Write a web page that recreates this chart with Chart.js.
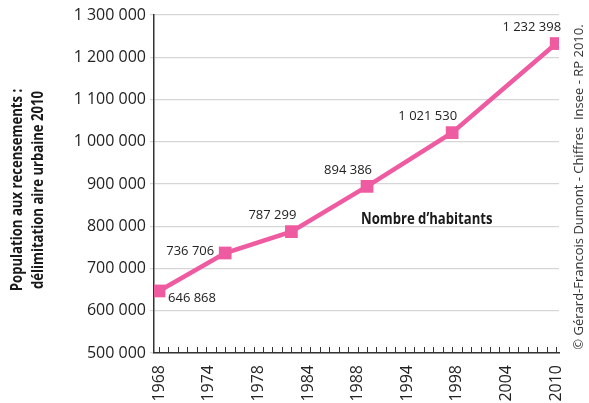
<!DOCTYPE html>
<html>
<head>
<meta charset="utf-8">
<script src="https://cdn.jsdelivr.net/npm/chart.js@4.4.0/dist/chart.umd.min.js"></script>
<style>
  body { margin: 0; background: #fff; }
</style>
</head>
<body>
<canvas id="stage" width="589" height="403"></canvas>
<script>
// recensements, aire urbaine 2010
const years = [1968, 1975, 1982, 1990, 1999, 2010];
const population = [646868, 736706, 787299, 894386, 1021530, 1232398];
const tickLabels = ['1968', '1974', '1978', '1984', '1988', '1994', '1998', '2004', '2010'];
const yTitle = ['Population aux recensements :', 'délimitation aire urbaine 2010'];
const seriesName = 'Nombre d’habitants';
const credit = '© Gérard-Francois Dumont - Chiffres  Insee - RP 2010.';

const pink = '#ef5ba1';
const textFont = "'Open Sans', sans-serif";

function fmt(v) {
  return String(v).replace(/\B(?=(\d{3})+(?!\d))/g, ' ');
}

// position des étiquettes autour des points
const labelPlace = ['below-right', 'left', 'above', 'above', 'above', 'above'];

// texte gras "étroit" (pas de police condensée installée -> on compresse)
function narrowText(ctx, text, x, y, squeeze) {
  ctx.save();
  ctx.translate(x, y);
  ctx.scale(squeeze, 1);
  ctx.fillText(text, 0, 0);
  ctx.restore();
}

const extras = {
  id: 'extras',
  afterDatasetsDraw(chart) {
    const ctx = chart.ctx;
    const meta = chart.getDatasetMeta(0);
    ctx.save();
    ctx.fillStyle = '#222';
    ctx.font = '13px ' + textFont;
    ctx.textBaseline = 'middle';
    meta.data.forEach((pt, i) => {
      const t = fmt(population[i]);
      const p = labelPlace[i];
      if (p === 'below-right') {
        ctx.textAlign = 'left';
        ctx.fillText(t, pt.x + 9, pt.y + 7);
      } else if (p === 'left') {
        ctx.textAlign = 'right';
        ctx.fillText(t, pt.x - 11, pt.y - 2);
      } else {
        ctx.textAlign = 'right';
        ctx.fillText(t, pt.x + 5, pt.y - 16);
      }
    });

    // nom de la série
    ctx.font = 'bold 16px ' + textFont;
    ctx.textAlign = 'left';
    ctx.fillStyle = '#1a1a1a';
    narrowText(ctx, seriesName, 361, 219, 0.82);
    ctx.restore();
  },
  afterDraw(chart) {
    const ctx = chart.ctx;
    const x = chart.scales.x;
    const area = chart.chartArea;
    ctx.save();
    // petites graduations annuelles
    ctx.strokeStyle = '#333';
    ctx.lineWidth = 1;
    for (let yr = 1968; yr <= 2010; yr++) {
      const px = Math.round(x.getPixelForValue(yr)) + 0.5;
      ctx.beginPath();
      ctx.moveTo(px, area.bottom);
      ctx.lineTo(px, area.bottom - 6);
      ctx.stroke();
    }
    ctx.restore();

    // titre de l'axe vertical
    ctx.save();
    ctx.translate(0, 190);
    ctx.rotate(-Math.PI / 2);
    ctx.font = 'bold 16px ' + textFont;
    ctx.fillStyle = '#1a1a1a';
    ctx.textAlign = 'center';
    ctx.textBaseline = 'middle';
    narrowText(ctx, yTitle[0], 0, 17, 0.82);
    narrowText(ctx, yTitle[1], 0, 38, 0.82);
    ctx.restore();

    // source
    ctx.save();
    ctx.translate(579, 187);
    ctx.rotate(-Math.PI / 2);
    ctx.font = '13px ' + textFont;
    ctx.fillStyle = '#333';
    ctx.textAlign = 'center';
    ctx.textBaseline = 'middle';
    ctx.fillText(credit, 0, 0);
    ctx.restore();
  }
};

const ctx = document.getElementById('stage').getContext('2d');
const config = {
  type: 'line',
  data: {
    datasets: [{
      label: seriesName,
      data: years.map((y, i) => ({ x: y, y: population[i] })),
      borderColor: pink,
      backgroundColor: pink,
      borderWidth: 4.5,
      pointStyle: 'rect',
      pointRadius: 9,
      pointHoverRadius: 9,
      pointBorderWidth: 0,
      tension: 0
    }]
  },
  options: {
    responsive: false,
    animation: false,
    layout: { padding: { top: 15, right: 30, left: 0, bottom: 0 } },
    plugins: {
      legend: { display: false },
      tooltip: { enabled: false }
    },
    scales: {
      x: {
        type: 'linear',
        min: 1967.47,
        max: 2010.3,
        afterBuildTicks(scale) {
          const n = tickLabels.length - 1;
          scale.ticks = tickLabels.map((l, i) => ({ value: 1968 + i * 42 / n }));
        },
        afterFit(scale) { scale.height = 50; },
        grid: { display: false },
        border: { display: true, color: '#333', width: 1.5 },
        ticks: {
          minRotation: 90,
          maxRotation: 90,
          padding: 4,
          color: '#222',
          font: { family: textFont, size: 16 },
          callback: (v, i) => tickLabels[i]
        }
      },
      y: {
        min: 500000,
        max: 1300000,
        afterFit(scale) { scale.width = 154; },
        ticks: {
          stepSize: 100000,
          padding: 4,
          color: '#222',
          font: { family: textFont, size: 16 },
          callback: v => fmt(v)
        },
        grid: { color: '#d6d6d6', lineWidth: 1.2, tickLength: 4 },
        border: { display: true, color: '#333', width: 1.5 }
      }
    }
  },
  plugins: [extras]
};
const myChart = new Chart(ctx, config);
</script>
</body>
</html>
